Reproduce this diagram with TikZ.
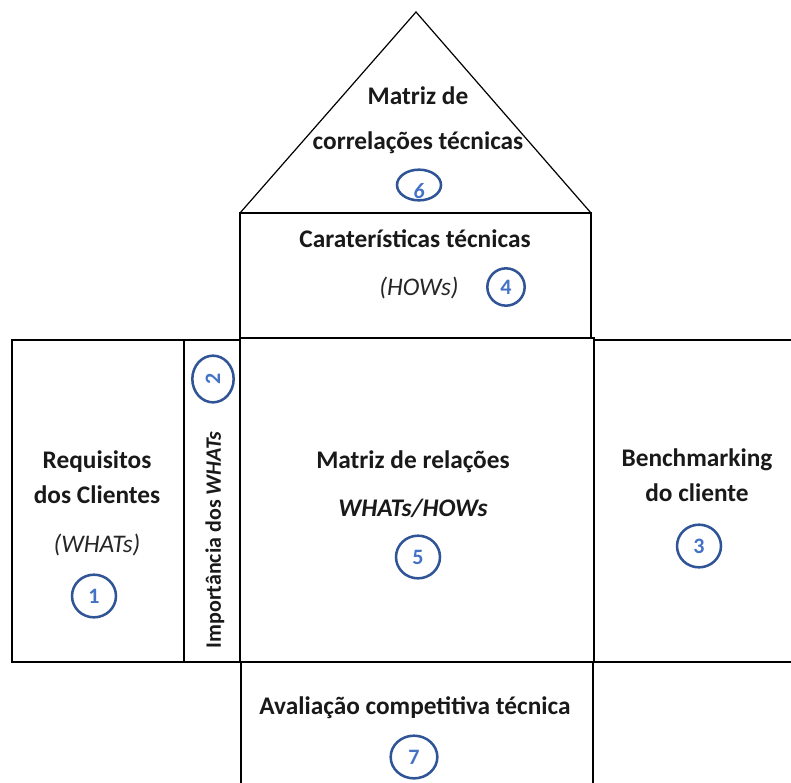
\documentclass[tikz,border=0pt]{standalone}
\usepackage{fontspec}
\setmainfont{Carlito}
\definecolor{ringblue}{HTML}{2F5597}
\definecolor{digitblue}{HTML}{4472C4}
\begin{document}
\begin{tikzpicture}[x=0.75pt,y=-0.75pt,
  thinline/.style={draw=black,line width=0.9pt},
  thickline/.style={draw=black,line width=1.9pt},
  label/.style={font=\fontsize{19}{22}\selectfont\bfseries,text=black!90,inner sep=0pt},
  sidelabel/.style={font=\fontsize{16.5}{19}\selectfont\bfseries,text=black!90,inner sep=0pt},
  note/.style={font=\fontsize{19}{22}\selectfont\itshape,text=black!85,inner sep=0pt},
  ring/.style={draw=ringblue,line width=1.9pt,ellipse,minimum width=33pt,minimum height=32pt,inner sep=0pt,
    font=\fontsize{16.5}{18}\selectfont\bfseries,text=digitblue},
]
\usetikzlibrary{shapes.geometric}
\useasboundingbox (0,0) rectangle (791,782);

% roof: technical correlation matrix
\draw[thinline] (240,213) -- (416,12) -- (591,213);
% technical characteristics
\draw[thinline] (240,213) rectangle (591,338);
% customer requirements
\draw[thinline] (12,340) rectangle (184,662);
% importance column
\draw[thinline] (184,340) rectangle (240,662);
% relationship matrix
\draw[thinline] (240,338) rectangle (594,662);
% customer benchmarking
\draw[thinline] (594,340) rectangle (800,662);
% technical competitive assessment
\draw[thinline] (241,662) rectangle (593,800);
% heavier borders
\draw[thickline] (240,213) -- (591,213);
\draw[thickline] (184,340) -- (184,662);
\draw[thickline] (594,338) -- (594,662);
\draw[thickline] (240,662) -- (594,662);

% roof
\node[label] (t6a) at (418,96) {Matriz de};
\node[label] (t6b) at (418,143) {correlações técnicas};
\node[ring,minimum width=33pt,minimum height=23pt] (r6) at (419,185) {};
\node[font=\fontsize{16.5}{18}\selectfont\bfseries\itshape,text=digitblue,inner sep=0pt] (d6) at (419,191) {6};

% technical characteristics
\node[label] (t4a) at (415,239) {Caraterísticas técnicas};
\node[note] (t4b) at (419,288) {(HOWs)};
\node[ring,minimum width=28pt,minimum height=28pt] (r4) at (506,287) {4};

% customer requirements
\node[label] (t1a) at (97,462) {Requisitos};
\node[label] (t1b) at (97,495) {dos Clientes};
\node[note] (t1c) at (97,545) {(WHATs)};
\node[ring] (r1) at (94,596) {1};

% importance column
\node[sidelabel,rotate=90] (t2) at (215,540) {Importância dos \textit{WHATs}};
\node[ring,minimum width=31pt,minimum height=35pt] (r2) at (213,379) {\rotatebox{90}{2}};

% relationship matrix
\node[label] (t5a) at (413,462) {Matriz de relações};
\node[label] (t5b) at (413,508) {\textit{WHATs/HOWs}};
\node[ring] (r5) at (418,557) {5};

% customer benchmarking
\node[label] (t3a) at (697,460) {Benchmarking};
\node[label] (t3b) at (697,493) {do cliente};
\node[ring] (r3) at (699,546) {3};

% technical competitive assessment
\node[label] (t7) at (415,708) {Avaliação competitiva técnica};
\node[ring,minimum width=35pt] (r7) at (414,757) {7};
\end{tikzpicture}
\end{document}
